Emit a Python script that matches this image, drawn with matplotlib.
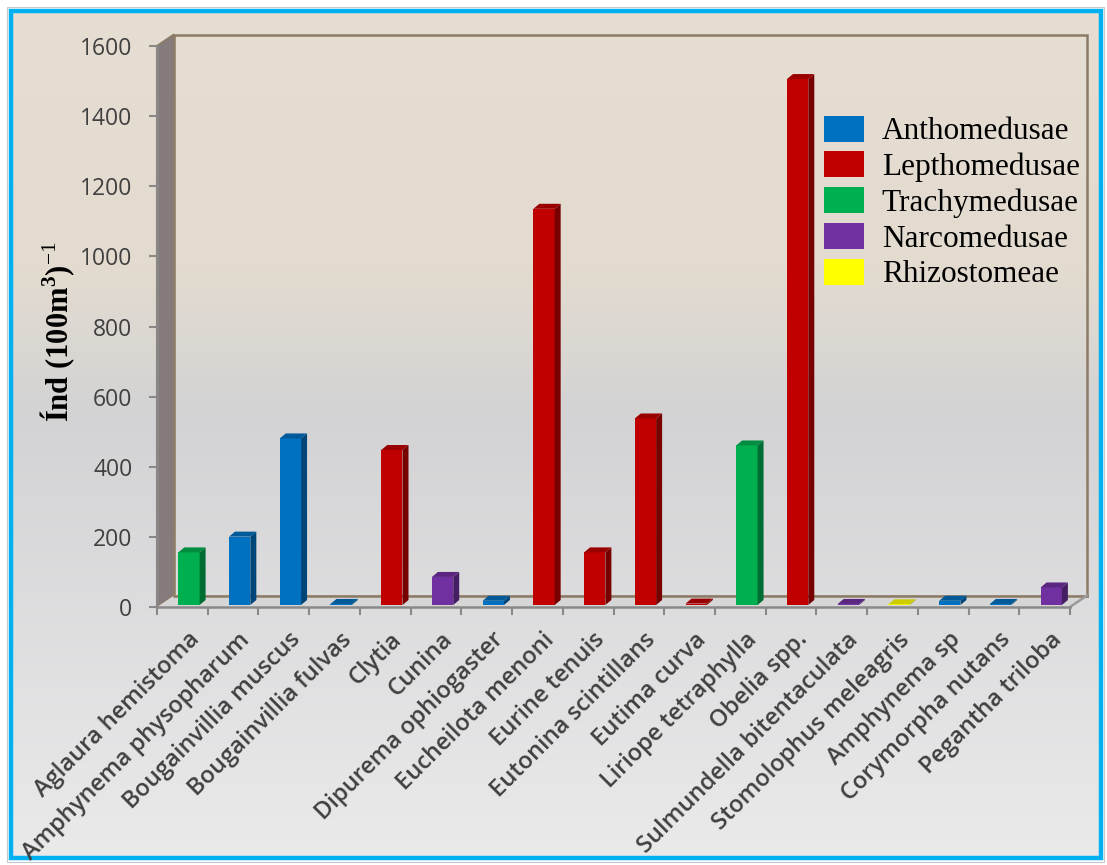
import numpy as np
import matplotlib.pyplot as plt
from matplotlib.patches import Polygon, Rectangle, Patch
from matplotlib.colors import LinearSegmentedColormap, to_rgb
from matplotlib.transforms import ScaledTranslation

plt.rcParams['mathtext.fontset'] = 'custom'
plt.rcParams['mathtext.rm'] = 'Liberation Serif'
plt.rcParams['mathtext.bf'] = 'Liberation Serif:bold'

# especies, grupo taxonomico y densidad
especies = ['Aglaura hemistoma', 'Amphynema physopharum', 'Bougainvillia muscus',
            'Bougainvillia fulvas', 'Clytia', 'Cunina', 'Dipurema ophiogaster',
            'Eucheilota menoni', 'Eurine tenuis', 'Eutonina scintillans',
            'Eutima curva', 'Liriope tetraphylla', 'Obelia spp.',
            'Sulmundella bitentaculata', 'Stomolophus meleagris', 'Amphynema sp',
            'Corymorpha nutans', 'Pegantha triloba']
grupo = ['Trachymedusae', 'Anthomedusae', 'Anthomedusae', 'Anthomedusae',
         'Lepthomedusae', 'Narcomedusae', 'Anthomedusae', 'Lepthomedusae',
         'Lepthomedusae', 'Lepthomedusae', 'Lepthomedusae', 'Trachymedusae',
         'Lepthomedusae', 'Narcomedusae', 'Rhizostomeae', 'Anthomedusae',
         'Anthomedusae', 'Narcomedusae']
densidad = [150, 195, 475, 3, 442, 80, 12, 1130, 150, 532, 4, 455, 1500, 3, 2, 12, 3, 50]

grupos = ['Anthomedusae', 'Lepthomedusae', 'Trachymedusae', 'Narcomedusae', 'Rhizostomeae']
colores = ['#0070C0', '#C00000', '#00B050', '#7030A0', '#FFFF00']

W, H = 1107, 865
fig = plt.figure(figsize=(W / 100, H / 100), dpi=100)
fig.patch.set_facecolor('white')

# fondo con degradado y marco azul
bg = fig.add_axes([0, 0, 1, 1], zorder=-5)
bg.set_xlim(0, W)
bg.set_ylim(H, 0)
bg.axis('off')
cmap = LinearSegmentedColormap.from_list(
    'fondo', [(0, '#E6DED2'), (0.30, '#E3DBCF'), (0.48, '#D3D3D5'), (1, '#EAEAEB')])
grad = np.linspace(0, 1, 256)[:, None]
bg.imshow(grad, cmap=cmap, extent=(10, W - 5, H - 6, 10), aspect='auto')
bg.add_patch(Rectangle((6.5, 6.5), W - 10, H - 10, fill=False, ec='#C8C8C8', lw=0.8))
bg.add_patch(Rectangle((10.5, 10.5), W - 17, H - 18, fill=False, ec='#00B0F0', lw=3.2))

ax = fig.add_axes([157 / W, (H - 607) / H, 913 / W, 561 / H])
n = len(especies)
ymax = 1600
ax.set_xlim(0, n)
ax.set_ylim(0, ymax)
ax.patch.set_visible(False)

px_x = n / 913.0
px_y = ymax / 561.0
DX, DY = 17 * px_x, 11.5 * px_y
borde = '#8C7B66'

# paredes del grafico 3D
ax.add_patch(Polygon([(0, 0), (DX, DY), (DX, ymax + DY), (0, ymax)],
                     fc='#857B7C', ec=borde, lw=1.5, clip_on=False, zorder=1))
ax.add_patch(Rectangle((DX, DY), n, ymax, fill=False, ec=borde, lw=1.8,
                       clip_on=False, zorder=1))
ax.add_patch(Polygon([(0, 0), (n, 0), (n + DX, DY), (DX, DY)],
                     fc='#D6D6D7', ec='none', clip_on=False, zorder=1))
ax.plot([DX, n + DX], [DY, DY], color=borde, lw=1.8, clip_on=False, zorder=1)
ax.plot([n, n + DX], [0, DY], color='#9A9A9A', lw=1.8, clip_on=False, zorder=1)


def tono(c, f):
    return tuple(np.array(to_rgb(c)) * f)


# barras con cara lateral y superior
ancho = 0.42
x0 = np.arange(n) + 0.42
base = 2 * px_y
ddx, ddy = 6 * px_x, 5 * px_y
for i, v in enumerate(densidad):
    c = colores[grupos.index(grupo[i])]
    xl, xr = x0[i], x0[i] + ancho
    ax.bar(xl, v, width=ancho, bottom=base, align='edge', color=c, ec='none', zorder=3)
    ax.add_patch(Polygon([(xr, base), (xr, base + v), (xr + ddx, base + v + ddy),
                          (xr + ddx, base + ddy)], fc=tono(c, 0.62), ec='none', zorder=3))
    ax.add_patch(Polygon([(xl, base + v), (xr, base + v), (xr + ddx, base + v + ddy),
                          (xl + ddx, base + v + ddy)], fc=tono(c, 0.8), ec='none', zorder=3))

# ejes
for s in ['top', 'right']:
    ax.spines[s].set_visible(False)
for s in ['left', 'bottom']:
    ax.spines[s].set_color('#898989')
    ax.spines[s].set_linewidth(1.8)
    ax.spines[s].set_zorder(2)

ax.set_yticks(np.arange(0, ymax + 1, 200))
ax.tick_params(axis='y', length=5.8, width=1.5, color='#898989', pad=12,
               labelsize=16.5, labelcolor='#404040')
for lab in ax.get_yticklabels():
    lab.set_fontfamily('Open Sans')

ax.set_xticks(np.arange(n + 1), minor=True)
ax.set_xticks(np.arange(n) + 0.5)
ax.set_xticklabels(especies, rotation=45, ha='right', rotation_mode='anchor',
                   fontsize=17, fontfamily='Open Sans', fontweight='semibold',
                   color='#404040')
ax.tick_params(axis='x', which='major', length=0, pad=15)
ax.tick_params(axis='x', which='minor', length=5.8, width=1.5, color='#898989')
desp = ScaledTranslation(5 / 100, 0, fig.dpi_scale_trans)
for lab in ax.get_xticklabels():
    lab.set_transform(lab.get_transform() + desp)

fig.text(58 / W, 1 - 332 / H, r'Índ (100m$^{\mathbf{3}}$)$^{\mathrm{-1}}$',
         rotation=90, ha='center', va='center', fontsize=22,
         fontfamily='Liberation Serif', fontweight='bold', color='black')

handles = [Patch(facecolor=c, edgecolor='none') for c in colores]
ax.legend(handles, grupos, loc='upper left', bbox_to_anchor=(808 / W, 1 - 100 / H),
          bbox_transform=fig.transFigure, frameon=False, borderpad=0,
          prop={'family': 'Liberation Serif', 'size': 22.5},
          handlelength=1.28, handleheight=0.9, handletextpad=0.58, labelspacing=0.16)

fig.savefig('out.png', dpi=100)
